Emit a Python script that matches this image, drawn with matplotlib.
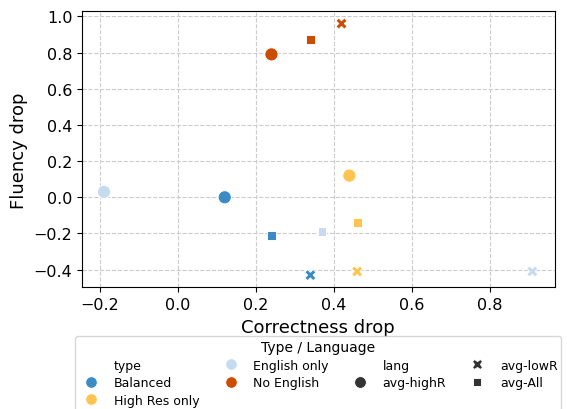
import matplotlib
matplotlib.use("Agg")
import matplotlib.pyplot as plt
import pandas as pd
import seaborn as sns

types = ["Balanced"] * 3 + ["English only"] * 3 + ["High Res only"] * 3 + ["No English"] * 3
langs = ["avg-highR", "avg-All", "avg-lowR"] * 4
correctness = [0.12, 0.24, 0.34, -0.19, 0.37, 0.91, 0.44, 0.46, 0.46, 0.24, 0.34, 0.42]
fluency = [0.00, -0.21, -0.43, 0.03, -0.19, -0.41, 0.12, -0.14, -0.41, 0.79, 0.87, 0.96]

hue_order = ["Balanced", "High Res only", "English only", "No English"]
style_order = ["avg-highR", "avg-lowR", "avg-All"]
palette = {"Balanced": "#3b8bc4", "High Res only": "#fec44f",
           "English only": "#c6dbef", "No English": "#cc4c02"}
marker_size = {"avg-highR": 90, "avg-lowR": 65, "avg-All": 40}
legend_msize = {"avg-highR": 8.5, "avg-lowR": 7.5, "avg-All": 6}

df = pd.DataFrame({"type": types, "lang": langs,
                   "Correctness drop": correctness, "Fluency drop": fluency})

fig, ax = plt.subplots(figsize=(5.67, 4.10), dpi=100)
fig.subplots_adjust(left=0.145, right=0.978, top=0.97, bottom=0.297)

sns.scatterplot(data=df, x="Correctness drop", y="Fluency drop", hue="type", style="lang",
                hue_order=hue_order, style_order=style_order,
                markers={"avg-highR": "o", "avg-lowR": "X", "avg-All": "s"},
                palette=palette, s=70, ax=ax)
# different marker sizes per lang, as in the reference
ax.collections[0].set_sizes([marker_size[l] for l in df["lang"]])

ax.set_xlim(-0.246, 0.967)
ax.set_ylim(-0.497, 1.028)
ax.grid(True, linestyle="--", color="#cccccc", linewidth=0.8)
ax.set_axisbelow(True)
ax.tick_params(labelsize=11.5)
ax.set_xlabel("Correctness drop", fontsize=13)
ax.set_ylabel("Fluency drop", fontsize=13)

handles, labels = ax.get_legend_handles_labels()
for h, lab in zip(handles, labels):
    if lab in legend_msize and hasattr(h, "set_markersize"):
        h.set_markersize(legend_msize[lab])
ax.legend(handles, labels, title="Type / Language", ncol=4, loc="upper center",
          bbox_to_anchor=(0.5, -0.155), fontsize=9, title_fontsize=10,
          frameon=True, columnspacing=1.5, labelspacing=0.37, borderpad=0.3)

fig.savefig("out.png", dpi=100)
